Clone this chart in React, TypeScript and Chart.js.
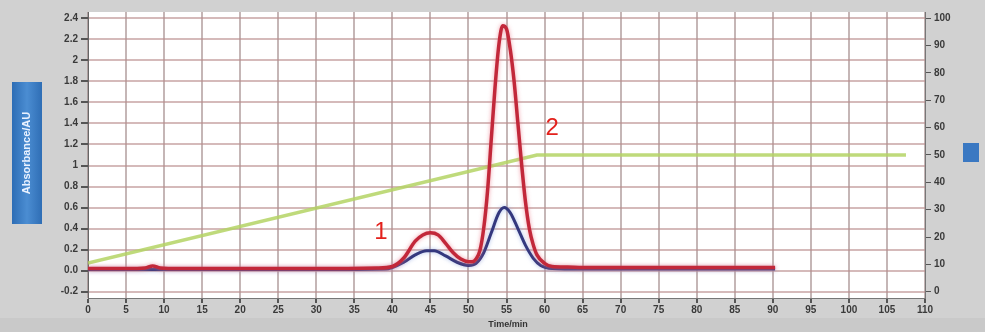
import React, { useEffect, useRef } from "react";
import { Chart, registerables } from "chart.js";

Chart.register(...registerables);

// ---- data ----
const redTime = [0, 5, 7.5, 8.5, 9.5, 12, 20, 30, 38, 40, 41.5, 43, 44, 45, 46, 47, 48, 49, 50, 50.5, 51, 51.5, 52, 52.5, 53, 53.5, 54, 54.5, 55, 55.5, 56, 56.5, 57, 57.5, 58, 58.5, 59, 60, 61, 63, 65, 70, 80, 90.3];
const redAU = [0.02, 0.02, 0.025, 0.045, 0.025, 0.02, 0.02, 0.02, 0.025, 0.04, 0.12, 0.28, 0.34, 0.36, 0.34, 0.26, 0.17, 0.11, 0.085, 0.085, 0.11, 0.19, 0.4, 0.75, 1.25, 1.75, 2.15, 2.33, 2.3, 2.1, 1.8, 1.4, 1.0, 0.65, 0.4, 0.25, 0.15, 0.07, 0.04, 0.035, 0.03, 0.03, 0.03, 0.03];

const blueTime = [0, 30, 39, 40, 41.5, 43, 44.5, 45.5, 47, 48.5, 50, 51, 52, 53, 54, 54.7, 55.5, 56.5, 57.5, 58.5, 59.5, 61, 65, 90.3];
const blueAU = [0.01, 0.01, 0.015, 0.03, 0.08, 0.15, 0.19, 0.19, 0.14, 0.08, 0.05, 0.07, 0.17, 0.36, 0.55, 0.6, 0.55, 0.4, 0.24, 0.12, 0.05, 0.02, 0.015, 0.015];

const gradTime = [0, 59, 107.5];
const gradPct = [10.5, 50, 50];

const xTickValues = [0, 5, 10, 15, 20, 25, 30, 35, 40, 45, 50, 55, 60, 65, 70, 75, 80, 85, 90, 95, 100, 105, 110];
const leftTickValues = [-0.2, 0, 0.2, 0.4, 0.6, 0.8, 1, 1.2, 1.4, 1.6, 1.8, 2, 2.2, 2.4];
const leftTickLabels = ["-0.2", "0.0", "0.2", "0.4", "0.6", "0.8", "1", "1.2", "1.4", "1.6", "1.8", "2", "2.2", "2.4"];
const rightTickValues = [0, 10, 20, 30, 40, 50, 60, 70, 80, 90, 100];

const peakLabels = ["1", "2"];
const peakLabelTime = [38.5, 61];
const peakLabelAU = [0.36, 1.35];

const xTitle = "Time/min";
const yTitle = "Absorbance/AU";

const leftMin = -0.26;
const leftMax = 2.46;
const toRight = (v: number) => ((v + 0.2) / 2.6) * 100;

const glowColors: Record<string, string> = {
  red: "rgba(235,120,135,0.7)",
  blue: "rgba(120,150,220,0.6)",
};

export default function App() {
  const ref = useRef<HTMLCanvasElement | null>(null);

  useEffect(() => {
    document.body.style.margin = "0";
    const canvas = ref.current;
    if (!canvas) return;

    const bgPlugin = {
      id: "bg",
      beforeDraw(chart: any) {
        const { ctx, chartArea: a } = chart;
        ctx.save();
        ctx.fillStyle = "#d1d1d1";
        ctx.fillRect(0, 0, chart.width, chart.height);
        ctx.fillStyle = "#c9c9c9";
        ctx.fillRect(0, 318, chart.width, 14);
        ctx.fillStyle = "#ffffff";
        ctx.fillRect(a.left, a.top, a.right - a.left, a.bottom - a.top);
        ctx.restore();
      },
      beforeDatasetDraw(chart: any, args: any) {
        const lbl = chart.data.datasets[args.index].label;
        const c = glowColors[lbl];
        if (c) {
          chart.ctx.save();
          chart.ctx.shadowColor = c;
          chart.ctx.shadowBlur = 4;
        }
      },
      afterDatasetDraw(chart: any, args: any) {
        const lbl = chart.data.datasets[args.index].label;
        if (glowColors[lbl]) chart.ctx.restore();
      },
      afterDraw(chart: any) {
        const { ctx } = chart;
        const xs = chart.scales.x;
        const ys = chart.scales.y;
        ctx.save();
        // peak labels
        ctx.fillStyle = "#e3211c";
        ctx.font = "24px 'Liberation Sans', Arial, sans-serif";
        ctx.textAlign = "center";
        ctx.textBaseline = "middle";
        peakLabels.forEach((t, i) => {
          ctx.fillText(t, xs.getPixelForValue(peakLabelTime[i]), ys.getPixelForValue(peakLabelAU[i]));
        });
        // x title
        ctx.fillStyle = "#333";
        ctx.font = "bold 9px 'Liberation Sans', Arial, sans-serif";
        ctx.fillText(xTitle, 508, 325);
        // left blue title box
        const g = ctx.createLinearGradient(12, 0, 42, 0);
        g.addColorStop(0, "#2d6db5");
        g.addColorStop(0.5, "#4b8dd2");
        g.addColorStop(1, "#2f6eb5");
        ctx.fillStyle = g;
        ctx.fillRect(12, 82, 30, 142);
        ctx.translate(27, 153);
        ctx.rotate(-Math.PI / 2);
        ctx.fillStyle = "#eaf2ff";
        ctx.font = "bold 11px 'Liberation Sans', Arial, sans-serif";
        ctx.fillText(yTitle, 0, 0);
        ctx.setTransform(1, 0, 0, 1, 0, 0);
        // right small blue box
        ctx.fillStyle = "#3a78c2";
        ctx.fillRect(963, 143, 16, 19);
        ctx.restore();
      },
    };

    const tickFont = { family: "'Liberation Sans', Arial, sans-serif", size: 10, weight: "bold" as const };

    const chart = new Chart(canvas, {
      type: "line",
      data: {
        datasets: [
          {
            label: "red",
            data: redTime.map((t, i) => ({ x: t, y: redAU[i] })),
            borderColor: "#c2283a",
            borderWidth: 3.5,
            pointRadius: 0,
            cubicInterpolationMode: "monotone",
            yAxisID: "y",
          },
          {
            label: "blue",
            data: blueTime.map((t, i) => ({ x: t, y: blueAU[i] })),
            borderColor: "#34387e",
            borderWidth: 3,
            pointRadius: 0,
            cubicInterpolationMode: "monotone",
            yAxisID: "y",
          },
          {
            label: "gradient",
            data: gradTime.map((t, i) => ({ x: t, y: gradPct[i] })),
            borderColor: "rgba(180,212,100,0.85)",
            borderWidth: 3.5,
            pointRadius: 0,
            tension: 0,
            yAxisID: "y2",
          },
        ],
      },
      options: {
        responsive: false,
        animation: false,
        events: [],
        layout: { padding: { top: 12, left: 0, right: 0, bottom: 0 } },
        plugins: { legend: { display: false }, tooltip: { enabled: false } },
        scales: {
          x: {
            type: "linear",
            min: 0,
            max: 110,
            afterBuildTicks: (s: any) => {
              s.ticks = xTickValues.map((v) => ({ value: v }));
            },
            afterFit: (s: any) => {
              s.height = 34;
            },
            ticks: {
              autoSkip: false,
              maxRotation: 0,
              padding: 1,
              color: "#3a3a3a",
              font: tickFont,
              callback: (v: any) => String(v),
            },
            grid: {
              color: "rgba(140,110,110,0.5)",
              lineWidth: 2,
              tickLength: 5,
              tickColor: "#555",
            },
            border: { color: "#777", width: 1 },
          },
          y: {
            type: "linear",
            position: "left",
            min: leftMin,
            max: leftMax,
            afterBuildTicks: (s: any) => {
              s.ticks = leftTickValues.map((v) => ({ value: v }));
            },
            afterFit: (s: any) => {
              s.width = 88;
            },
            ticks: {
              autoSkip: false,
              padding: 3,
              color: "#3a3a3a",
              font: tickFont,
              callback: (_v: any, i: number) => leftTickLabels[i],
            },
            grid: {
              color: "rgba(185,140,140,0.6)",
              lineWidth: 2,
              tickLength: 7,
              tickColor: "#555",
            },
            border: { color: "#666", width: 1 },
          },
          y2: {
            type: "linear",
            position: "right",
            min: toRight(leftMin),
            max: toRight(leftMax),
            afterBuildTicks: (s: any) => {
              s.ticks = rightTickValues.map((v) => ({ value: v }));
            },
            afterFit: (s: any) => {
              s.width = 60;
            },
            ticks: {
              autoSkip: false,
              padding: 3,
              color: "#3a3a3a",
              font: tickFont,
              callback: (v: any) => String(v),
            },
            grid: {
              drawOnChartArea: false,
              tickLength: 6,
              tickColor: "#555",
            },
            border: { color: "#777", width: 1 },
          },
        },
      },
      plugins: [bgPlugin],
    } as any);

    return () => chart.destroy();
  }, []);

  return (
    <div style={{ width: 985, height: 332 }}>
      <canvas ref={ref} width={985} height={332} style={{ display: "block" }} />
    </div>
  );
}
